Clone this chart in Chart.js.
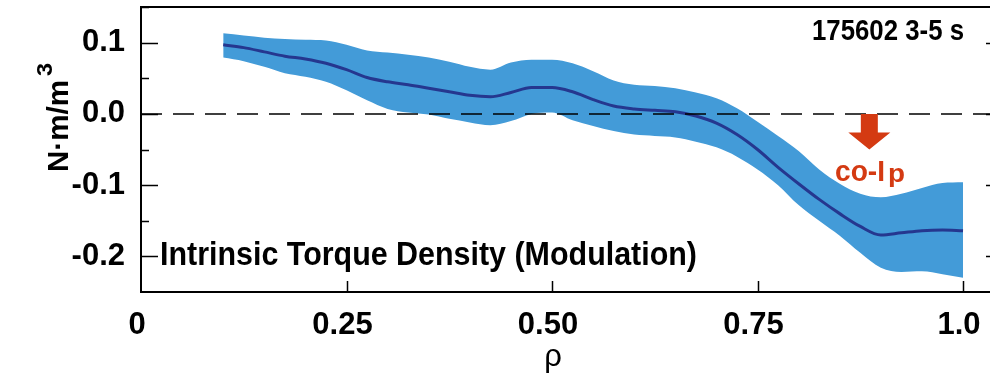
<!DOCTYPE html>
<html>
<head>
<meta charset="utf-8">
<script src="https://cdn.jsdelivr.net/npm/chart.js@4.4.1/dist/chart.umd.min.js"></script>
<style>
	html, body { margin: 0; padding: 0; background: #fff; overflow: hidden; }
	#wrap { width: 990px; height: 380px; }
</style>
</head>
<body>
<div id="wrap"><canvas id="chart" width="990" height="380"></canvas></div>
<script>
"use strict";

// normalized radius rho
const rho = [
	0.100, 0.125, 0.150, 0.175, 0.200, 0.225, 0.250, 0.275, 0.300, 0.325,
	0.350, 0.375, 0.400, 0.425, 0.450, 0.475, 0.500, 0.525, 0.550, 0.575,
	0.600, 0.625, 0.650, 0.675, 0.700, 0.725, 0.750, 0.775, 0.800, 0.825,
	0.850, 0.875, 0.900, 0.925, 0.950, 0.975, 1.000,
];

// intrinsic torque density, N.m/m^3
const meanTorque = [
	0.097, 0.093, 0.087, 0.081, 0.077, 0.071, 0.062, 0.051, 0.045, 0.041,
	0.036, 0.031, 0.026, 0.024, 0.030, 0.037, 0.037, 0.031, 0.020, 0.011,
	0.007, 0.005, 0.003, -0.003, -0.013, -0.029, -0.050, -0.075, -0.098, -0.120,
	-0.140, -0.158, -0.170, -0.167, -0.164, -0.163, -0.164,
];
const upperBound = [
	0.113, 0.110, 0.107, 0.105, 0.104, 0.103, 0.097, 0.089, 0.086, 0.083,
	0.079, 0.073, 0.066, 0.062, 0.072, 0.076, 0.076, 0.071, 0.060, 0.047,
	0.041, 0.039, 0.036, 0.030, 0.022, 0.008, -0.011, -0.031, -0.052, -0.078,
	-0.098, -0.112, -0.117, -0.112, -0.104, -0.097, -0.096,
];
const lowerBound = [
	0.079, 0.074, 0.066, 0.057, 0.052, 0.045, 0.033, 0.019, 0.007, 0.002,
	-0.001, -0.007, -0.012, -0.016, -0.010, 0.000, 0.002, -0.009, -0.017, -0.024,
	-0.029, -0.031, -0.033, -0.039, -0.047, -0.060, -0.078, -0.100, -0.128, -0.150,
	-0.171, -0.195, -0.216, -0.222, -0.221, -0.225, -0.230,
];

const xTickValues = [0, 0.25, 0.5, 0.75, 1.0];
const xTickLabels = ["0", "0.25", "0.50", "0.75", "1.0"];
const yTickValues = [0.1, 0.0, -0.1, -0.2];
const yTickLabels = ["0.1", "0.0", "-0.1", "-0.2"];
const yMinorTicks = [0.15, 0.05, -0.05, -0.15];

const SANS = "'Liberation Sans', Arial, sans-serif";
const BAND_COLOR = "#439bd8";
const LINE_COLOR = "#25378f";
const RED = "#d43a12";

function toPoints(values) {
	return values.map((v, i) => ({ x: rho[i], y: v }));
}

// draw text squeezed to a given width (left aligned), the original uses a condensed face
function fitText(ctx, text, left, baseline, width, font) {
	ctx.save();
	ctx.font = font;
	ctx.textAlign = "left";
	ctx.textBaseline = "alphabetic";
	const w = ctx.measureText(text).width;
	ctx.translate(left, baseline);
	ctx.scale(width / w, 1);
	ctx.fillText(text, 0, 0);
	ctx.restore();
}

const framePlugin = {
	id: "frame",
	afterDatasetsDraw(chart) {
		const { ctx, chartArea: a, scales: { x, y } } = chart;
		ctx.save();

		// dashed zero line
		const y0 = y.getPixelForValue(0);
		ctx.strokeStyle = "#000";
		ctx.lineWidth = 1.5;
		ctx.setLineDash([21, 11]);
		ctx.beginPath();
		ctx.moveTo(a.left, y0);
		ctx.lineTo(a.right, y0);
		ctx.stroke();
		ctx.setLineDash([]);

		// frame (left, top, bottom)
		ctx.lineWidth = 2;
		ctx.beginPath();
		ctx.moveTo(a.right, a.top);
		ctx.lineTo(a.left, a.top);
		ctx.lineTo(a.left, a.bottom);
		ctx.lineTo(a.right, a.bottom);
		ctx.stroke();

		// inward ticks
		ctx.lineWidth = 1.5;
		ctx.beginPath();
		yTickValues.forEach((v) => {
			const py = Math.round(y.getPixelForValue(v)) + 0.5;
			ctx.moveTo(a.left, py);
			ctx.lineTo(a.left + 17, py);
			ctx.moveTo(a.right, py);
			ctx.lineTo(a.right - 4, py);
		});
		yMinorTicks.forEach((v) => {
			const py = Math.round(y.getPixelForValue(v)) + 0.5;
			ctx.moveTo(a.left, py);
			ctx.lineTo(a.left + 8, py);
		});
		xTickValues.slice(1).forEach((v) => {
			const px = Math.round(x.getPixelForValue(v)) + 0.5;
			ctx.moveTo(px, a.bottom);
			ctx.lineTo(px, a.bottom - 11);
		});
		ctx.stroke();
		ctx.restore();
	},
	afterDraw(chart) {
		const { ctx, scales: { x, y } } = chart;
		ctx.save();

		// arrow, in data coordinates
		const ax = x.getPixelForValue(0.886);
		const aTop = y.getPixelForValue(0);
		const aNeck = y.getPixelForValue(-0.026);
		const aTip = y.getPixelForValue(-0.05);
		ctx.fillStyle = RED;
		ctx.beginPath();
		ctx.moveTo(ax - 8.5, aTop);
		ctx.lineTo(ax + 8.5, aTop);
		ctx.lineTo(ax + 8.5, aNeck);
		ctx.lineTo(ax + 21, aNeck);
		ctx.lineTo(ax, aTip);
		ctx.lineTo(ax - 21, aNeck);
		ctx.lineTo(ax - 8.5, aNeck);
		ctx.closePath();
		ctx.fill();

		fitText(ctx, "co-I", 835, 181, 50, `bold 30px ${SANS}`);
		fitText(ctx, "p", 888, 182, 17, `bold 26px ${SANS}`);

		ctx.fillStyle = "#000";
		fitText(ctx, "175602 3-5 s", 812, 40, 152, `bold 30px ${SANS}`);
		fitText(ctx, "Intrinsic Torque Density (Modulation)", 160, 265, 537, `bold 33px ${SANS}`);

		// x title
		ctx.font = `31px ${SANS}`;
		ctx.textAlign = "center";
		ctx.textBaseline = "alphabetic";
		ctx.fillText("ρ", 553, 366);

		// y title, rotated
		ctx.translate(68, 172);
		ctx.rotate(-Math.PI / 2);
		fitText(ctx, "N·m/m", 0, 0, 92, `bold 29px ${SANS}`);
		fitText(ctx, "3", 96, -16, 13, `bold 22px ${SANS}`);
		ctx.restore();
	},
};

const tickFont = { family: SANS, size: 31, weight: "bold" };

new Chart(document.getElementById("chart"), {
	type: "line",
	data: {
		datasets: [
			{
				label: "mean",
				data: toPoints(meanTorque),
				borderColor: LINE_COLOR,
				borderWidth: 3,
				pointRadius: 0,
				cubicInterpolationMode: "monotone",
				fill: false,
				order: 0,
			},
			{
				label: "upper",
				data: toPoints(upperBound),
				borderWidth: 0,
				borderColor: BAND_COLOR,
				backgroundColor: BAND_COLOR,
				pointRadius: 0,
				cubicInterpolationMode: "monotone",
				fill: "+1",
				order: 1,
			},
			{
				label: "lower",
				data: toPoints(lowerBound),
				borderWidth: 0,
				borderColor: BAND_COLOR,
				pointRadius: 0,
				cubicInterpolationMode: "monotone",
				fill: false,
				order: 2,
			},
		],
	},
	options: {
		responsive: false,
		animation: false,
		layout: { padding: { left: 0, top: 7, right: 0, bottom: 0 } },
		plugins: { legend: { display: false }, tooltip: { enabled: false } },
		scales: {
			x: {
				type: "linear",
				min: 0,
				max: 1.0328,
				afterBuildTicks: (s) => { s.ticks = xTickValues.map((v) => ({ value: v })); },
				afterFit: (s) => {
					s.height = 88;
					s.paddingLeft = 0;
					s.paddingRight = 0;
				},
				grid: { display: false, drawTicks: false },
				border: { display: false },
				ticks: {
					font: tickFont,
					color: "#000",
					padding: 15,
					labelOffset: -4,
					maxRotation: 0,
					autoSkip: false,
					callback: (v) => xTickLabels[xTickValues.indexOf(v)],
				},
			},
			y: {
				type: "linear",
				min: -0.25,
				max: 0.15,
				afterBuildTicks: (s) => { s.ticks = yTickValues.map((v) => ({ value: v })); },
				afterFit: (s) => {
					s.width = 141;
					s.paddingTop = 0;
					s.paddingBottom = 0;
				},
				grid: { display: false, drawTicks: false },
				border: { display: false },
				ticks: {
					font: tickFont,
					color: "#000",
					padding: 16,
					autoSkip: false,
					callback: (v) => yTickLabels[yTickValues.indexOf(v)],
				},
			},
		},
	},
	plugins: [framePlugin],
});
</script>
</body>
</html>
